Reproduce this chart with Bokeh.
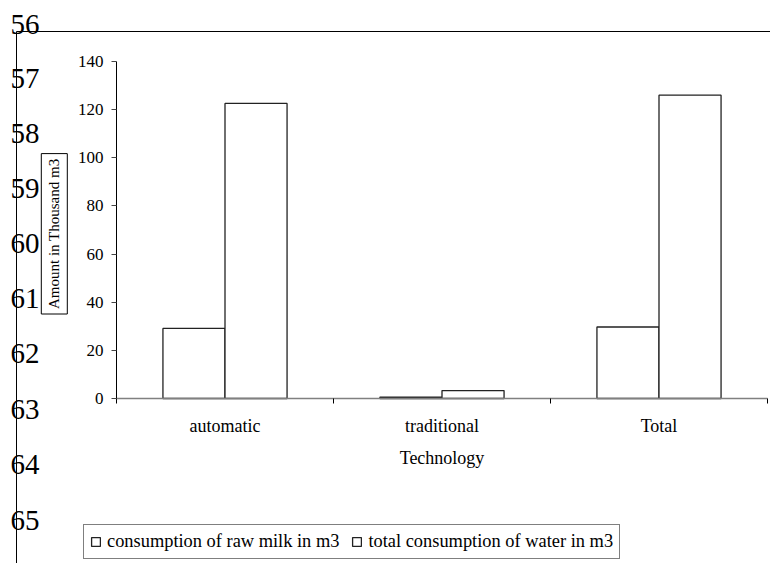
import numpy as np
from bokeh.plotting import figure
from bokeh.models import (ColumnDataSource, Range1d, FixedTicker, LinearAxis, Label,
                          Legend, LegendItem, BoxAnnotation)
from bokeh.transform import dodge
from bokeh.embed import file_html
from bokeh.resources import INLINE

# ---- data ----
categories = ["automatic", "traditional", "Total"]
raw_milk = [29.1, 0.6, 29.7]
water = [122.6, 3.3, 126.0]
series_names = ["consumption of raw milk in m3", "total consumption of water in m3"]
y_ticks = [0, 20, 40, 60, 80, 100, 120, 140]
y_max = 140
x_title = "Technology"
y_title = "Amount in Thousand m3"
line_numbers = ["56", "57", "58", "59", "60", "61", "62", "63", "64", "65"]

FONT = "Liberation Serif"
W, H = 770, 563

# ---- layout (pixels): the plot area inside the page ----
plot_left, plot_right, plot_top, plot_bottom = 116, 767, 61, 398
n_cat = len(categories)
kx = (plot_right - plot_left) / n_cat
ky = (plot_bottom - plot_top) / y_max
x_range = Range1d(-plot_left / kx, n_cat + (W - plot_right) / kx)
y_range = Range1d(-(H - plot_bottom) / ky, y_max + plot_top / ky)

pos = np.arange(n_cat) + 0.5
source = ColumnDataSource(dict(pos=pos, raw=raw_milk, water=water))

p = figure(width=W, height=H, x_range=x_range, y_range=y_range,
           output_backend="svg", toolbar_location=None,
           x_axis_location=None, y_axis_location=None, min_border=0)
p.outline_line_color = None
p.grid.visible = False
p.background_fill_color = "white"
p.border_fill_color = "white"

yaxis = LinearAxis(ticker=FixedTicker(ticks=y_ticks, minor_ticks=[]),
                   fixed_location=0, bounds=(0, y_max),
                   axis_line_color="black", axis_line_width=1,
                   major_tick_out=5, major_tick_in=0, major_tick_line_color="#444444",
                   minor_tick_out=0, minor_tick_in=0,
                   major_label_standoff=8, major_label_text_font=FONT,
                   major_label_text_font_size="17px", major_label_text_color="black")
p.add_layout(yaxis, "left")

xaxis = LinearAxis(ticker=FixedTicker(ticks=list(pos), minor_ticks=list(range(n_cat + 1))),
                   fixed_location=0, bounds=(0, n_cat),
                   major_label_overrides={float(x): c for x, c in zip(pos, categories)},
                   axis_line_color="#808080", axis_line_width=1.5,
                   major_tick_line_color=None, major_tick_out=5, major_tick_in=0,
                   minor_tick_out=5, minor_tick_in=0, minor_tick_line_color="black",
                   major_label_standoff=12, major_label_text_font=FONT,
                   major_label_text_font_size="18px", major_label_text_color="black",
                   axis_label=x_title, axis_label_text_font=FONT, axis_label_text_font_size="18px",
                   axis_label_text_font_style="normal", axis_label_text_color="black",
                   axis_label_standoff=9)
p.add_layout(xaxis, "below")

r1 = p.vbar(x=dodge("pos", -0.143, range=p.x_range), top="raw", width=0.286, source=source,
            fill_color="white", line_color="#222222", line_width=1.3)
r2 = p.vbar(x=dodge("pos", 0.143, range=p.x_range), top="water", width=0.286, source=source,
            fill_color="white", line_color="#222222", line_width=1.3)

legend = Legend(items=[LegendItem(label=series_names[0], renderers=[r1]),
                       LegendItem(label=series_names[1], renderers=[r2])],
                orientation="horizontal", location=(83, H - 559),
                border_line_color="black", border_line_width=1, background_fill_color="white",
                background_fill_alpha=1,
                label_text_font=FONT, label_text_font_size="18.4px", label_text_color="black",
                glyph_width=11, glyph_height=11, label_standoff=6, spacing=12, padding=6, margin=0)
p.add_layout(legend)

# boxed y-axis title
p.add_layout(Label(x=53.8, y=H - 233.3, x_units="screen", y_units="screen", text=y_title,
                   angle=np.pi / 2, text_align="center", text_baseline="middle",
                   text_font=FONT, text_font_size="15px", text_color="black",
                   border_line_color="black", background_fill_color="white", padding=5))

# page line numbers of the source document
num_y = [24, 77.5, 133, 188, 243, 298, 353, 409, 464, 520]
for n, yy in zip(line_numbers, num_y):
    p.add_layout(Label(x=10, y=H - yy, x_units="screen", y_units="screen", text=n,
                       text_align="left", text_baseline="middle",
                       text_font=FONT, text_font_size="29px", text_color="black"))

# page rules
p.add_layout(BoxAnnotation(left=16, right=W, top=H - 30.5, bottom=H - 31.5,
                           left_units="screen", right_units="screen",
                           top_units="screen", bottom_units="screen",
                           fill_color="black", fill_alpha=1, line_color=None))
p.add_layout(BoxAnnotation(left=15.5, right=16.5, top=H - 31, bottom=0,
                           left_units="screen", right_units="screen",
                           top_units="screen", bottom_units="screen",
                           fill_color="black", fill_alpha=1, line_color=None))

open("out.html", "w").write(file_html(p, INLINE))
